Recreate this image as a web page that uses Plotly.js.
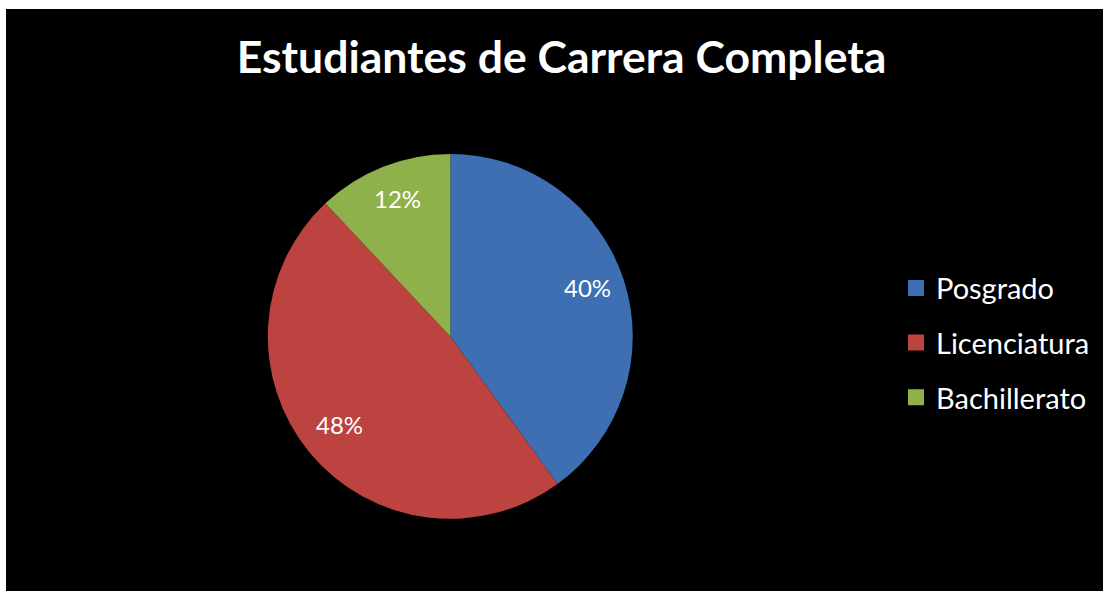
<!DOCTYPE html>
<html>
<head>
<meta charset="utf-8">
<script src="https://cdn.plot.ly/plotly-3.0.1.min.js"></script>
<style>
  html, body { margin: 0; padding: 0; background: #ffffff; }
  #chart { position: absolute; left: 6px; top: 9px; width: 1097px; height: 582px; }
</style>
</head>
<body>
<div id="chart"></div>
<script>
const categories = ['Posgrado', 'Licenciatura', 'Bachillerato'];
const values = [40, 48, 12];
const colors = ['#3D6FB2', '#BC4340', '#8FB14B'];
const chartTitle = 'Estudiantes de Carrera Completa';

const FONT = 'Lato, "Open Sans", sans-serif';
const W = 1097, H = 582;
const pieDomain = { x: [0.236, 0.574], y: [0.124, 0.751] };

const pie = {
  type: 'pie',
  labels: categories,
  values: values,
  sort: false,
  direction: 'clockwise',
  rotation: 0,
  marker: { colors: colors, line: { width: 0 } },
  textinfo: 'none',
  domain: pieDomain,
  showlegend: false,
  hoverinfo: 'label+percent'
};

// percentage labels placed along each slice's bisector (derived from the values)
const total = values.reduce((a, b) => a + b, 0);
const cxPx = (pieDomain.x[0] + pieDomain.x[1]) / 2 * W;
const cyPx = (1 - (pieDomain.y[0] + pieDomain.y[1]) / 2) * H;
const Rpx = Math.min((pieDomain.x[1] - pieDomain.x[0]) * W, (pieDomain.y[1] - pieDomain.y[0]) * H) / 2;
let cum = 0;
const annotations = values.map((v) => {
  const mid = (cum + v / 2) / total * 2 * Math.PI;
  cum += v;
  const r = 0.79 * Rpx;
  const px = cxPx + r * Math.sin(mid);
  const py = cyPx - r * Math.cos(mid) - 4;
  return {
    x: px / W, y: 1 - py / H, xref: 'paper', yref: 'paper',
    xanchor: 'center', yanchor: 'middle', showarrow: false,
    text: Math.round(v / total * 100) + '%',
    font: { family: FONT, size: 24, color: '#ffffff' }
  };
});

const legendTraces = categories.map((c, i) => ({
  type: 'scatter',
  mode: 'markers',
  x: [null], y: [null],
  name: c,
  legendgroup: c,
  marker: { symbol: 'square', size: 18, color: colors[i] },
  showlegend: true,
  hoverinfo: 'skip'
}));

const layout = {
  width: W,
  height: H,
  paper_bgcolor: '#000000',
  plot_bgcolor: '#000000',
  margin: { l: 0, r: 0, t: 0, b: 0 },
  title: {
    text: '<b>' + chartTitle + '</b>',
    font: { family: FONT, size: 44.5, color: '#ffffff' },
    x: 0.5064, xanchor: 'center', xref: 'paper',
    y: 0.916, yanchor: 'middle', yref: 'container'
  },
  xaxis: { visible: false },
  yaxis: { visible: false },
  showlegend: true,
  annotations: annotations,
  legend: {
    x: 0.8113, xanchor: 'left',
    y: 0.426, yanchor: 'middle',
    font: { family: FONT, size: 29, color: '#ffffff' },
    tracegroupgap: 14,
    traceorder: 'grouped',
    bgcolor: 'rgba(0,0,0,0)'
  }
};

Plotly.newPlot('chart', [pie].concat(legendTraces), layout, { displayModeBar: false, staticPlot: true });
</script>
</body>
</html>
